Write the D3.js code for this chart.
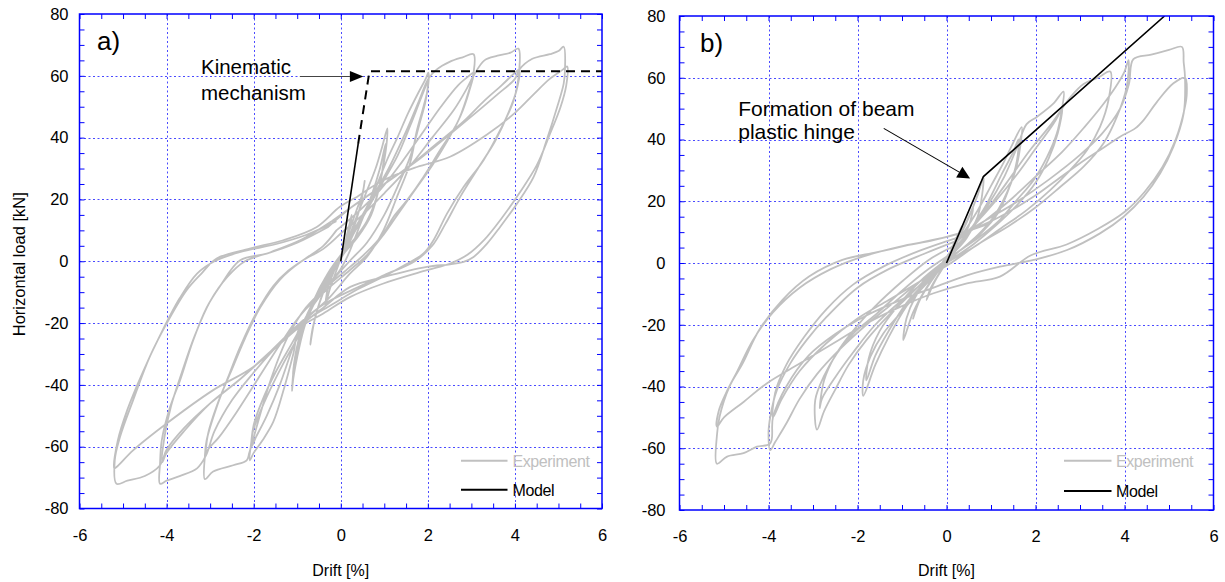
<!DOCTYPE html>
<html><head><meta charset="utf-8">
<script src="https://cdn.jsdelivr.net/npm/d3@7"></script>
<style>
html,body{margin:0;padding:0;background:#fff;}
svg{display:block;font-family:"Liberation Sans",Arial,sans-serif;}
</style></head><body>
<svg id="chart" width="1225" height="582"></svg>
<script>
// ---------- DATA ----------
const xTickValues = [-6,-4,-2,0,2,4,6];
const yTickValues = [-80,-60,-40,-20,0,20,40,60,80];
const panelLabels = ["a)","b)"];
const seriesNames = ["Experiment","Model"];
const xTitle = "Drift [%]";
const yTitle = "Horizontal load [kN]";
const annotTextA = ["Kinematic","mechanism"];
const annotTextB = ["Formation of beam","plastic hinge"];

// Panel a: experiment cycles [drift %, load kN]
const expA_c0 = [[0,0],[0.1,6],[0.2,12],[0.25,15],[0.2,10],[0.05,3],[-0.1,-3],[-0.25,-9],[-0.35,-14],[-0.3,-9],[-0.15,-3],[0,1]];
const expA_c1 = [[0,1],[0.15,8],[0.35,16],[0.5,22],[0.55,26],[0.45,18],[0.25,9],[0,2],[-0.25,-5],[-0.5,-14],[-0.65,-22],[-0.7,-27],[-0.6,-19],[-0.4,-10],[-0.15,-3],[0.05,2]];
const expA_c2 = [[0.05,2],[0.3,12],[0.55,21],[0.8,30],[0.95,37],[1.07,43],[1.06,39],[0.98,31],[0.83,21],[0.6,13],[0.3,7],[0,2],[-0.3,-4],[-0.6,-12],[-0.85,-22],[-1.0,-31],[-1.09,-38],[-1.12,-42],[-1.09,-36],[-1.01,-28],[-0.78,-18],[-0.4,-9.4],[-0.02,-2.9],[0.2,3]];
const expA_c3 = [[0.2,3],[0.45,12],[0.7,21],[0.9,30],[1.03,38],[1.0,34],[0.9,25],[0.7,15],[0.4,8],[0.1,3],[-0.2,-2],[-0.5,-9],[-0.8,-19],[-1.0,-29],[-1.1,-37],[-1.05,-31],[-0.9,-22],[-0.6,-12],[-0.25,-4],[0.1,3]];
const expA_c4 = [[0.1,3],[0.4,12],[0.75,22],[1.07,33],[1.3,40],[1.55,48],[1.8,55],[1.95,59],[2.01,61],[2.0,56],[1.9,50],[1.75,42.4],[1.59,31.6],[1.29,20.8],[0.98,10],[0.6,1.4],[0.21,-4],[-0.25,-11.6],[-0.94,-21.3],[-1.09,-30],[-1.3,-41],[-1.55,-52],[-1.8,-58],[-2.0,-62],[-2.09,-64.4],[-2.05,-58],[-2.01,-54.7],[-1.7,-43.9],[-1.32,-33.1],[-0.94,-23.4],[-0.55,-12],[-0.2,-3],[0.1,4]];
const expA_c5 = [[0.1,4],[0.5,14],[0.9,24],[1.3,34],[1.6,44],[1.85,53],[2.0,58],[1.95,52],[1.8,44],[1.6,34],[1.3,24],[1.0,15],[0.6,6],[0.2,0],[-0.3,-8],[-0.8,-18],[-1.1,-28],[-1.4,-40],[-1.7,-50],[-1.95,-57],[-2.05,-60],[-2.0,-53],[-1.8,-45],[-1.5,-36],[-1.1,-26],[-0.7,-16],[-0.3,-6],[0,2]];
const expA_c6 = [[0,2],[0.3,10],[0.7,20],[1.1,30],[1.5,42],[1.8,52],[2.01,59],[2.2,62],[2.5,64.5],[2.8,66],[3.05,67],[3.05,61],[2.9,53.2],[2.67,44.6],[2.28,35.9],[1.9,27.3],[1.52,19.7],[1.21,14.3],[0.98,9],[0.6,3],[0.2,-2],[-0.3,-8],[-0.8,-15],[-1.2,-24],[-1.6,-38],[-1.9,-52],[-2.1,-62],[-2.16,-64.4],[-2.47,-66],[-2.93,-68],[-3.12,-70.5],[-3.12,-63],[-3.08,-57.9],[-2.85,-47.2],[-2.6,-38],[-2.31,-27.7],[-1.93,-16.5],[-1.55,-8],[-1.2,-3],[-0.8,1],[-0.4,5],[-0.1,10]];
const expA_c7 = [[-0.1,10],[0.4,16],[0.9,23],[1.4,32],[1.9,42],[2.3,50],[2.7,57],[2.95,60],[3.05,61],[2.95,55],[2.75,47],[2.45,39],[2.1,31],[1.7,23],[1.3,15],[0.95,8],[0.6,2],[0.2,-3],[-0.3,-9],[-0.9,-17],[-1.4,-27],[-1.9,-38],[-2.4,-49],[-2.8,-57],[-3.05,-61],[-3.1,-63],[-3.05,-56],[-2.8,-45],[-2.5,-35],[-2.2,-25],[-1.85,-15],[-1.4,-6],[-0.9,0],[-0.4,4],[0,9]];
const expA_c8 = [[0,9],[0.5,15],[1.0,22],[1.6,31],[2.1,40],[2.6,49],[2.9,56],[3.05,60],[3.3,65],[3.6,66.5],[3.9,67.5],[4.08,68.8],[4.1,62],[3.97,52],[3.66,42.4],[3.28,32.7],[2.82,24],[2.44,15.4],[2.13,6.8],[1.9,2.5],[1.5,-1],[0.98,-5],[0.4,-9],[-0.2,-14],[-0.94,-20.5],[-1.5,-28],[-2.0,-36],[-2.5,-45],[-2.9,-55],[-3.1,-63],[-3.3,-67],[-3.7,-69.5],[-4.0,-71],[-4.15,-72],[-4.15,-65.4],[-4.11,-57.9],[-3.92,-47.2],[-3.69,-38.5],[-3.39,-25.6],[-3.08,-15],[-2.77,-8],[-2.31,0.3],[-1.7,2.5],[-1.0,6],[-0.3,11]];
const expA_c9 = [[-0.3,11],[0.2,17],[0.8,23],[1.5,30],[2.2,38],[2.8,45],[3.3,52],[3.7,57],[4.0,61],[4.1,62],[4.05,56],[3.85,48],[3.55,39],[3.15,30],[2.75,21],[2.4,12],[2.1,5],[1.7,0],[1.0,-4.5],[0.3,-9],[-0.4,-14],[-0.94,-20],[-1.6,-29],[-2.3,-38],[-3.0,-46],[-3.6,-55],[-4.0,-62],[-4.1,-65],[-4.05,-57],[-3.9,-47],[-3.65,-36],[-3.35,-24],[-3.0,-13],[-2.6,-5],[-2.2,0],[-1.6,3],[-0.9,7],[-0.2,13]];
const expA_c10 = [[-0.2,13],[0.4,19],[1.0,25],[1.8,33],[2.5,41],[3.1,48],[3.6,54],[4.0,59],[4.1,62],[4.4,65.5],[4.8,67],[5.0,68],[5.12,69.4],[5.15,62],[5.12,57.5],[4.97,49.9],[4.73,39.2],[4.43,27.3],[4.05,18.7],[3.66,11.1],[3.36,5.7],[3.05,1.4],[2.82,-0.2],[2.51,-1],[1.98,-1.8],[0.98,-5.1],[0.22,-8.3],[-0.4,-15],[-0.94,-21],[-1.6,-29],[-2.3,-38],[-3.0,-46],[-3.6,-54],[-4.0,-61],[-4.15,-66],[-4.5,-69.5],[-4.9,-71],[-5.15,-72],[-5.19,-64.4],[-5.07,-56.9],[-4.77,-45],[-4.39,-31],[-4.0,-20.2],[-3.54,-9.4],[-3.2,-4],[-2.85,0.9],[-2.09,4.1],[-1.32,6.8],[-0.55,11.1],[-0.02,17.6],[0.37,20.8]];
const expA_c11 = [[0.37,20.8],[0.98,26.2],[1.75,30.5],[2.51,33.8],[3.36,41],[4.0,48],[4.43,54],[4.8,59],[5.1,62],[5.2,63],[5.18,57],[5.05,50],[4.8,41],[4.5,31],[4.1,22],[3.7,14],[3.3,7],[2.9,2],[2.5,-0.8],[1.98,-2.9],[0.98,-7.2],[0.21,-11.6],[-0.4,-16.9],[-0.94,-21.3],[-2.01,-34.2],[-2.93,-41.7],[-4.0,-52.5],[-4.77,-61.2],[-5.15,-66.6],[-5.2,-67],[-5.12,-58],[-4.9,-48],[-4.55,-36],[-4.15,-24],[-3.7,-12],[-3.3,-4],[-2.9,0],[-2.3,3],[-1.5,5.5],[-0.8,8.5],[-0.1,13]];

// Panel a: model (solid part, dashed part)
const modelA_solid = [[0,0],[0.4,38]];
const modelA_dashed = [[0.4,38],[0.66,61.5],[6,61.5]];

// Panel b: experiment cycles
const expB_c0 = [[0,0],[0.1,4],[0.25,9],[0.35,12],[0.25,7],[0.05,2],[-0.15,-3],[-0.35,-8],[-0.45,-12],[-0.3,-7],[-0.1,-2],[0,0]];
const expB_c1 = [[0,0],[0.2,6],[0.45,13],[0.6,18],[0.5,12],[0.25,5],[0,1],[-0.3,-5],[-0.6,-12],[-0.75,-18],[-0.6,-12],[-0.3,-5],[0,1]];
const expB_c2 = [[0,1],[0.25,8],[0.5,15],[0.7,22],[0.83,28],[0.8,22],[0.7,15],[0.45,8],[0.15,3],[-0.15,-2],[-0.45,-8],[-0.75,-16],[-0.97,-25],[-0.9,-18],[-0.7,-11],[-0.4,-5],[-0.1,0]];
const expB_c3 = [[-0.1,0],[0.3,8],[0.7,17],[1.0,25],[1.3,33],[1.5,39],[1.69,44],[1.66,38],[1.55,30],[1.28,20.4],[1.06,15],[0.7,9],[0.3,4],[-0.1,-1],[-0.5,-7],[-0.9,-14],[-1.3,-24],[-1.6,-33],[-1.87,-43],[-1.87,-37.9],[-1.71,-30.3],[-1.42,-22.8],[-1.04,-16.3],[-0.6,-9],[-0.2,-3],[0.1,2]];
const expB_c4 = [[0.1,2],[0.5,10],[0.9,19],[1.25,29],[1.5,36],[1.62,40],[1.58,33],[1.4,24],[1.15,16],[0.8,10],[0.4,5],[0,1],[-0.4,-5],[-0.9,-13],[-1.3,-22],[-1.6,-30],[-1.8,-38],[-1.75,-31],[-1.5,-22],[-1.1,-14],[-0.6,-6],[-0.1,0]];
const expB_c5 = [[-0.1,0],[0.4,8],[0.9,18],[1.3,28],[1.6,38],[1.8,45],[2.03,47.3],[2.4,51.6],[2.63,55.5],[2.59,49.6],[2.48,42],[2.26,34.4],[1.96,26.9],[1.58,20.4],[1.2,14],[0.7,8],[0.2,3],[-0.3,-3],[-0.8,-10],[-1.3,-17],[-1.8,-25],[-2.2,-33],[-2.5,-41],[-2.75,-48],[-2.91,-54],[-2.95,-44.4],[-2.76,-36.8],[-2.46,-29.2],[-2.09,-22.8],[-1.56,-16.3],[-1.0,-9],[-0.5,-3],[0,2]];
const expB_c6 = [[0,2],[0.5,10],[1.0,19],[1.5,29],[1.9,37],[2.3,44],[2.55,49],[2.6,50],[2.5,42],[2.3,34],[2.0,26],[1.6,19],[1.1,12],[0.6,6],[0.1,1],[-0.4,-5],[-1.0,-12],[-1.6,-20],[-2.1,-29],[-2.5,-37],[-2.8,-44],[-2.85,-47],[-2.75,-38],[-2.5,-30],[-2.1,-22],[-1.6,-14],[-1.0,-6],[-0.4,1],[0.1,5]];
const expB_c7 = [[0.1,5],[0.6,12],[1.1,20],[1.6,29],[2.0,37],[2.4,45],[2.6,50],[2.8,54],[3.08,58],[3.4,60],[3.68,62],[3.64,52.8],[3.45,44.1],[3.16,36.6],[2.78,30.1],[2.33,23.6],[1.81,17.2],[1.2,11],[0.6,5],[0,0],[-0.6,-6],[-1.2,-13],[-1.8,-20],[-2.4,-28],[-2.91,-36],[-3.3,-44],[-3.6,-52],[-3.85,-58],[-3.96,-60.6],[-4.0,-55.2],[-3.96,-49.8],[-3.81,-41.1],[-3.51,-32.5],[-3.14,-24.9],[-2.69,-17.4],[-2.0,-8],[-1.3,-2],[-0.5,3],[0.2,7]];
const expB_c8 = [[0.2,7],[0.8,13],[1.4,20],[2.0,28],[2.6,36],[3.1,44],[3.5,51],[3.8,57],[4.0,62],[4.09,65.7],[4.05,57.1],[3.83,47.4],[3.53,38.8],[3.08,31.2],[2.56,24.7],[2.0,18],[1.4,12],[0.7,6],[0.1,0],[-0.6,-6],[-1.3,-12],[-2.0,-18],[-2.7,-26],[-3.3,-35],[-3.7,-44],[-3.9,-50],[-3.85,-42],[-3.6,-33],[-3.2,-24],[-2.7,-15],[-2.1,-7],[-1.4,-1],[-0.6,4],[0.2,8]];
const expB_c9 = [[0.2,8],[0.9,14],[1.6,20],[2.3,27],[3.0,35],[3.5,42],[3.9,50],[4.1,58],[4.2,66],[4.6,67.5],[5.0,69],[5.29,70],[5.33,65],[5.36,60],[5.33,48.5],[5.1,37.7],[4.8,29],[4.43,21.5],[3.98,15],[3.45,9.6],[2.71,4.2],[1.96,1],[1.2,-1.2],[0.46,-4],[-0.29,-8],[-1.04,-12],[-1.8,-17],[-2.5,-23],[-3.1,-30],[-3.6,-40],[-3.9,-50],[-3.96,-58.4],[-4.26,-59.5],[-4.56,-61.6],[-4.93,-62.7],[-5.16,-65],[-5.16,-56],[-5.1,-49.8],[-4.88,-40.1],[-4.58,-32.5],[-4.21,-21.7],[-3.69,-12],[-3.09,-4.4],[-2.34,1],[-1.56,3.5],[-0.8,6],[0,8.5],[0.6,11]];
const expB_c10 = [[0.6,11],[1.2,15],[1.96,21.5],[2.48,26.9],[3.0,32.3],[3.45,36.6],[3.9,40.9],[4.24,43.6],[4.43,46.3],[4.73,52.2],[5.1,58.2],[5.36,60],[5.4,55],[5.35,50],[5.15,40],[4.85,31],[4.45,23],[4.0,16.5],[3.4,11],[2.7,6],[1.9,2.5],[1.2,-4.4],[0.46,-6.6],[-0.29,-9.8],[-1.04,-14.2],[-1.79,-19.5],[-2.54,-26],[-3.29,-32.5],[-4.04,-39],[-4.56,-45],[-5.0,-50],[-5.16,-53],[-5.12,-48],[-4.95,-42],[-4.7,-35],[-4.35,-25],[-3.9,-16],[-3.3,-8],[-2.6,-2],[-1.9,2],[-1.04,5.3],[-0.29,7.4],[0.4,10],[1.0,13]];

// Panel b: model
const modelB = [[0,0],[0.83,28],[4.9,80]];

const expA = [].concat(expA_c0,expA_c1,expA_c2,expA_c3,expA_c4,expA_c5,expA_c6,expA_c7,expA_c8,expA_c9,expA_c10,expA_c11);
const expB = [].concat(expB_c0,expB_c1,expB_c2,expB_c3,expB_c4,expB_c5,expB_c6,expB_c7,expB_c8,expB_c9,expB_c10);

// ---------- LAYOUT ----------
const FONT = 16.5;
const panels = [
  {id:"a", box:{x0:79.5,x1:602,y0:14,y1:508.5}, ylabPad:11, xlabPad:20.5,
   exp:expA, models:[{d:modelA_solid,dash:null,w:1.6},{d:modelA_dashed,dash:"9,6",w:2}],
   label:{x:97,y:50},
   annot:{text:annotTextA, at:[-3.21,60.5], lineGap:25.3, size:20.5, from:[-0.94,59.8], to:[0.52,59.8], lineColor:"#444", head:{len:13.5,w:11}},
   legend:{x0:461,x1:507.5,tx:512.5,y1:460.7,y2:489.7},
   ytitle:true},
  {id:"b", box:{x0:679.5,x1:1213.5,y0:16,y1:510}, ylabPad:14, xlabPad:20,
   exp:expB, models:[{d:modelB,dash:null,w:1.6}],
   label:{x:700,y:51.5},
   annot:{text:annotTextB, at:[-4.68,47.6], lineGap:23.3, size:21, from:[-1.41,43.6], to:[0.53,27.4], lineColor:"#000", head:{len:12.5,w:12.5}},
   legend:{x0:1064,x1:1111.5,tx:1116,y1:460.7,y2:491},
   ytitle:false}
];

const svg = d3.select("#chart");
const defs = svg.append("defs");
const fmt = d => String(d);

panels.forEach((p, pi) => {
  const b = p.box;
  const x = d3.scaleLinear().domain([-6,6]).range([b.x0,b.x1]);
  const y = d3.scaleLinear().domain([-80,80]).range([b.y1,b.y0]);
  const g = svg.append("g");

  defs.append("clipPath").attr("id","clip-"+p.id)
    .append("rect").attr("x",b.x0).attr("y",b.y0).attr("width",b.x1-b.x0).attr("height",b.y1-b.y0);

  // gridlines
  const grid = g.append("g").attr("stroke","#4a4aff").attr("stroke-width",1).attr("stroke-dasharray","2,2.5");
  grid.selectAll("line.vx").data(xTickValues.slice(1,-1)).join("line")
    .attr("x1",d=>Math.round(x(d))+0.5).attr("x2",d=>Math.round(x(d))+0.5)
    .attr("y1",b.y0).attr("y2",b.y1);
  grid.selectAll("line.hy").data(yTickValues.slice(1,-1)).join("line")
    .attr("y1",d=>Math.round(y(d))+0.5).attr("y2",d=>Math.round(y(d))+0.5)
    .attr("x1",b.x0).attr("x2",b.x1);

  // experiment
  const line = d3.line().x(d=>x(d[0])).y(d=>y(d[1])).curve(d3.curveCatmullRom.alpha(0.5));
  const dg = g.append("g").attr("clip-path","url(#clip-"+p.id+")");
  dg.append("path").datum(p.exp).attr("d",line)
    .attr("fill","none").attr("stroke","#c0c0c0").attr("stroke-width",1.8).attr("stroke-linejoin","round");

  // model
  const lineL = d3.line().x(d=>x(d[0])).y(d=>y(d[1]));
  p.models.forEach(m => {
    dg.append("path").datum(m.d).attr("d",lineL)
      .attr("fill","none").attr("stroke","#000").attr("stroke-width",m.w)
      .attr("stroke-dasharray",m.dash);
  });

  // minor/major ticks (inward)
  const xMinor = d3.range(-6,6.001,0.5);
  const yMinor = d3.range(-80,80.001,5);
  const tickStyle = sel => { sel.select(".domain").remove(); sel.selectAll("line").attr("stroke","#0000ff").attr("stroke-width",1); };
  g.append("g").attr("transform",`translate(0,${b.y1})`).call(d3.axisBottom(x).tickValues(xMinor).tickSize(-5).tickFormat("")).call(tickStyle);
  g.append("g").attr("transform",`translate(0,${b.y0})`).call(d3.axisTop(x).tickValues(xMinor).tickSize(-5).tickFormat("")).call(tickStyle);
  g.append("g").attr("transform",`translate(${b.x0},0)`).call(d3.axisLeft(y).tickValues(yMinor).tickSize(-5).tickFormat("")).call(tickStyle);
  g.append("g").attr("transform",`translate(${b.x1},0)`).call(d3.axisRight(y).tickValues(yMinor).tickSize(-5).tickFormat("")).call(tickStyle);

  // frame
  g.append("rect").attr("x",b.x0).attr("y",b.y0).attr("width",b.x1-b.x0).attr("height",b.y1-b.y0)
    .attr("fill","none").attr("stroke","#0000ff").attr("stroke-width",1.5);

  // tick labels
  const labStyle = sel => { sel.select(".domain").remove(); sel.selectAll("text").attr("fill","#000").attr("font-size",FONT).attr("font-family","'Liberation Sans',Arial,sans-serif"); };
  g.append("g").attr("transform",`translate(0,${b.y1})`)
    .call(d3.axisBottom(x).tickValues(xTickValues).tickSize(0).tickPadding(p.xlabPad).tickFormat(fmt)).call(labStyle);
  g.append("g").attr("transform",`translate(${b.x0},0)`)
    .call(d3.axisLeft(y).tickValues(yTickValues).tickSize(0).tickPadding(p.ylabPad).tickFormat(fmt)).call(labStyle);

  // x title
  g.append("text").attr("x",x(0)).attr("y",575.5).attr("text-anchor","middle")
    .attr("font-size",FONT-0.5).text(xTitle);
  if (p.ytitle) {
    g.append("text").attr("transform",`translate(25,${(b.y0+b.y1)/2+3}) rotate(-90)`)
      .attr("text-anchor","middle").attr("font-size",FONT).text(yTitle);
  }

  // panel label
  g.append("text").attr("x",p.label.x).attr("y",p.label.y).attr("font-size",26).text(panelLabels[pi]);

  // annotation
  const a = p.annot;
  const at = g.append("text").attr("font-size",a.size).attr("fill","#000");
  a.text.forEach((t,i) => at.append("tspan").attr("x",x(a.at[0])).attr("y",y(a.at[1])+i*a.lineGap).text(t));
  const fx = x(a.from[0]), fy = y(a.from[1]), tx = x(a.to[0]), ty = y(a.to[1]);
  const ang = Math.atan2(ty-fy, tx-fx);
  const bx = tx - a.head.len*Math.cos(ang), by = ty - a.head.len*Math.sin(ang);
  g.append("line").attr("x1",fx).attr("y1",fy).attr("x2",bx).attr("y2",by)
    .attr("stroke",a.lineColor).attr("stroke-width",1.1);
  const nx = -Math.sin(ang)*a.head.w/2, ny = Math.cos(ang)*a.head.w/2;
  g.append("path").attr("d",`M${tx},${ty}L${bx+nx},${by+ny}L${bx-nx},${by-ny}Z`).attr("fill","#000");

  // legend
  const L = p.legend;
  g.append("line").attr("x1",L.x0).attr("x2",L.x1).attr("y1",L.y1).attr("y2",L.y1).attr("stroke","#c0c0c0").attr("stroke-width",2);
  g.append("text").attr("x",L.tx).attr("y",L.y1+6).attr("font-size",16).attr("letter-spacing",-0.4).attr("fill","#c0c0c0").text(seriesNames[0]);
  g.append("line").attr("x1",L.x0).attr("x2",L.x1).attr("y1",L.y2).attr("y2",L.y2).attr("stroke","#000").attr("stroke-width",2);
  g.append("text").attr("x",L.tx).attr("y",L.y2+6).attr("font-size",16).attr("letter-spacing",-0.4).attr("fill","#000").text(seriesNames[1]);
});
</script>
</body></html>
